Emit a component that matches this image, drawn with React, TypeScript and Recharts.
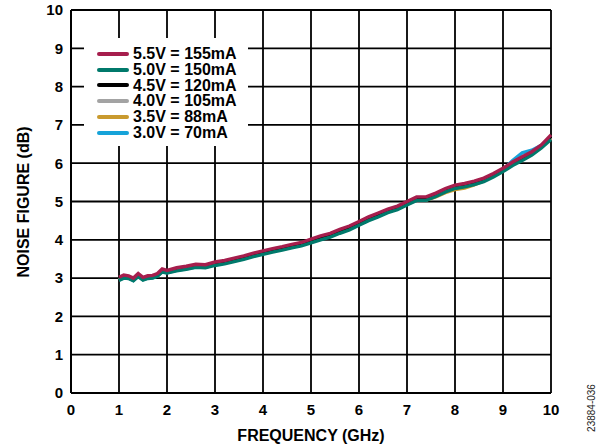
import React from "react";
import { LineChart, Line, XAxis, YAxis, CartesianGrid } from "recharts";

const FONT = '"Liberation Sans", Arial, sans-serif';

const freqGHz = [
  1.0, 1.1, 1.2, 1.3, 1.4, 1.5, 1.6, 1.7, 1.8, 1.9, 2.0,
  2.2, 2.4, 2.6, 2.8, 3.0, 3.2, 3.4, 3.6, 3.8, 4.0, 4.2, 4.4, 4.6, 4.8, 5.0,
  5.2, 5.4, 5.6, 5.8, 6.0, 6.2, 6.4, 6.6, 6.8, 7.0, 7.2, 7.4, 7.6, 7.8, 8.0,
  8.2, 8.4, 8.6, 8.8, 9.0, 9.2, 9.4, 9.6, 9.8, 10.0,
];

const nf55 = [
  3.02, 3.08, 3.06, 3.0, 3.12, 3.02, 3.06, 3.07, 3.12, 3.24, 3.2,
  3.27, 3.31, 3.36, 3.35, 3.42, 3.46, 3.52, 3.58, 3.65, 3.71, 3.77, 3.82, 3.88, 3.93, 4.02,
  4.1, 4.17, 4.27, 4.36, 4.48, 4.6, 4.7, 4.8, 4.88, 5.0, 5.12, 5.12, 5.22, 5.34, 5.43,
  5.47, 5.53, 5.61, 5.73, 5.87, 6.03, 6.17, 6.3, 6.48, 6.74,
];
const nf50 = [
  2.94, 3.0, 2.99, 2.93, 3.04, 2.95, 2.99, 3.0, 3.05, 3.16, 3.13,
  3.19, 3.23, 3.28, 3.27, 3.33, 3.37, 3.43, 3.49, 3.56, 3.62, 3.68, 3.73, 3.79, 3.84, 3.92,
  4.0, 4.07, 4.17, 4.26, 4.38, 4.5, 4.6, 4.71, 4.79, 4.91, 5.03, 5.03, 5.13, 5.25, 5.34,
  5.38, 5.44, 5.52, 5.64, 5.78, 5.94, 6.07, 6.21, 6.4, 6.62,
];
const nf45 = [
  2.99, 3.05, 3.03, 2.97, 3.09, 2.99, 3.03, 3.04, 3.09, 3.21, 3.17,
  3.24, 3.28, 3.33, 3.32, 3.39, 3.43, 3.49, 3.55, 3.62, 3.68, 3.74, 3.79, 3.85, 3.9, 3.99,
  4.07, 4.14, 4.24, 4.33, 4.45, 4.57, 4.67, 4.77, 4.85, 4.97, 5.09, 5.09, 5.19, 5.31, 5.4,
  5.44, 5.5, 5.58, 5.7, 5.84, 6.0, 6.13, 6.27, 6.45, 6.7,
];
const nf40 = [
  2.97, 3.03, 3.02, 2.96, 3.07, 2.98, 3.02, 3.03, 3.07, 3.19, 3.16,
  3.22, 3.26, 3.31, 3.3, 3.37, 3.41, 3.47, 3.53, 3.6, 3.66, 3.72, 3.77, 3.83, 3.88, 3.96,
  4.04, 4.11, 4.21, 4.3, 4.42, 4.54, 4.64, 4.75, 4.83, 4.95, 5.06, 5.06, 5.16, 5.28, 5.37,
  5.41, 5.47, 5.55, 5.67, 5.81, 5.98, 6.11, 6.25, 6.43, 6.67,
];
const nf35 = [
  2.96, 3.02, 3.01, 2.95, 3.06, 2.97, 3.01, 3.02, 3.06, 3.18, 3.15,
  3.21, 3.25, 3.3, 3.29, 3.36, 3.4, 3.46, 3.52, 3.59, 3.65, 3.71, 3.76, 3.82, 3.87, 3.95,
  4.03, 4.1, 4.2, 4.29, 4.41, 4.53, 4.63, 4.74, 4.82, 4.94, 5.05, 5.04, 5.12, 5.23, 5.31,
  5.35, 5.43, 5.54, 5.66, 5.8, 5.97, 6.1, 6.24, 6.42, 6.65,
];
const nf30 = [
  2.95, 3.01, 3.0, 2.94, 3.05, 2.96, 3.0, 3.01, 3.06, 3.17, 3.14,
  3.2, 3.24, 3.29, 3.28, 3.35, 3.39, 3.45, 3.51, 3.58, 3.64, 3.7, 3.75, 3.81, 3.86, 3.94,
  4.02, 4.09, 4.19, 4.28, 4.4, 4.52, 4.62, 4.73, 4.81, 4.93, 5.04, 5.04, 5.14, 5.26, 5.36,
  5.4, 5.46, 5.54, 5.67, 5.83, 6.07, 6.27, 6.34, 6.47, 6.66,
];

const xTicks = [0, 1, 2, 3, 4, 5, 6, 7, 8, 9, 10];
const yTicks = [0, 1, 2, 3, 4, 5, 6, 7, 8, 9, 10];

// legend order (top to bottom)
const series = [
  { key: "v55", name: "5.5V = 155mA", color: "#A61E4D", values: nf55 },
  { key: "v50", name: "5.0V = 150mA", color: "#00796B", values: nf50 },
  { key: "v45", name: "4.5V = 120mA", color: "#000000", values: nf45 },
  { key: "v40", name: "4.0V = 105mA", color: "#A3A3A3", values: nf40 },
  { key: "v35", name: "3.5V = 88mA", color: "#C99A2E", values: nf35 },
  { key: "v30", name: "3.0V = 70mA", color: "#16A3D9", values: nf30 },
];

const data = freqGHz.map((f, i) => {
  const row: Record<string, number> = { f };
  series.forEach((s) => (row[s.key] = s.values[i]));
  return row;
});

const tickStyle = { fontSize: 15, fontWeight: 700, fill: "#000", fontFamily: FONT };
const titleStyle = { fontSize: 16, fontWeight: 700, fill: "#000", fontFamily: FONT };

export default function App() {
  return (
    <div style={{ position: "absolute", left: 0, top: 0, width: 600, height: 446, background: "#fff", fontFamily: FONT }}>
      <LineChart width={600} height={446} data={data} margin={{ top: 10, right: 49, left: 31, bottom: 23 }}>
        <CartesianGrid stroke="#000" strokeWidth={1.8} horizontalValues={yTicks} verticalValues={xTicks} />
        <XAxis
          dataKey="f"
          type="number"
          domain={[0, 10]}
          ticks={xTicks}
          height={30}
          tickSize={0}
          tickMargin={11}
          tickLine={false}
          axisLine={{ stroke: "#000", strokeWidth: 2 }}
          tick={tickStyle}
          label={{
            content: () => (
              <text x={311} y={441} textAnchor="middle" style={titleStyle}>
                FREQUENCY (GHz)
              </text>
            ),
          }}
        />
        <YAxis
          type="number"
          domain={[0, 10]}
          ticks={yTicks}
          width={40}
          tickSize={0}
          tickMargin={8}
          tickLine={false}
          axisLine={{ stroke: "#000", strokeWidth: 2 }}
          tick={tickStyle}
          label={{
            content: () => (
              <text
                x={23}
                y={202}
                textAnchor="middle"
                dominantBaseline="central"
                transform="rotate(-90 23 202)"
                style={titleStyle}
              >
                NOISE FIGURE (dB)
              </text>
            ),
          }}
        />
        {[...series].reverse().map((s) => (
          <Line
            key={s.key}
            dataKey={s.key}
            name={s.name}
            stroke={s.color}
            strokeWidth={3.4}
            dot={false}
            type="linear"
            isAnimationActive={false}
          />
        ))}
      </LineChart>
      <div
        style={{
          position: "absolute",
          left: 84,
          top: 38,
          width: 164,
          height: 108,
          background: "#fff",
          paddingTop: 8,
          boxSizing: "border-box",
        }}
      >
        {series.map((s) => (
          <div key={s.key} style={{ display: "flex", alignItems: "center", height: 15.8 }}>
            <span style={{ display: "inline-block", width: 32, height: 4, borderRadius: 2, background: s.color, marginLeft: 13, marginRight: 4 }} />
            <span style={{ fontSize: 16, fontWeight: 700, color: "#000", whiteSpace: "nowrap", lineHeight: "15.8px" }}>{s.name}</span>
          </div>
        ))}
      </div>
      <div
        style={{
          position: "absolute",
          left: 591,
          top: 408,
          transform: "translate(-50%, -50%) rotate(-90deg)",
          fontSize: 10,
          color: "#222",
          whiteSpace: "nowrap",
        }}
      >
        23884-036
      </div>
    </div>
  );
}
